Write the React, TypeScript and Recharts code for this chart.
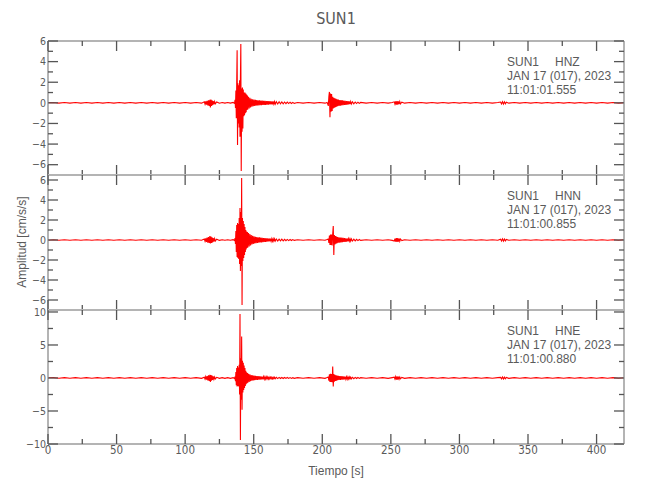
import React from 'react';
import { LineChart, Line, XAxis, YAxis } from 'recharts';

// ---------- data (time [s], amplitude [cm/s/s]) ----------
const STATION = 'SUN1';
const DATE_LINE = 'JAN 17 (017), 2023';
const CHANNELS = ['HNZ', 'HNN', 'HNE'];
const START_TIMES = ['11:01:01.555', '11:01:00.855', '11:01:00.880'];

const X_DOMAIN: [number, number] = [0, 420];
const X_MAJOR = [0, 50, 100, 150, 200, 250, 300, 350, 400];
const X_MINOR = [25, 75, 125, 175, 225, 275, 325, 375];

const Y_DOMAIN_HNZ: [number, number] = [-7, 6];
const Y_DOMAIN_HNN: [number, number] = [-7, 6.5];
const Y_DOMAIN_HNE: [number, number] = [-10, 10.3];
const Y_MAJOR_HNZ = [-6, -4, -2, 0, 2, 4, 6];
const Y_MINOR_HNZ = [-7, -5, -3, -1, 1, 3, 5];
const Y_MAJOR_HNN = [-6, -4, -2, 0, 2, 4, 6];
const Y_MINOR_HNN = [-7, -5, -3, -1, 1, 3, 5];
const Y_MAJOR_HNE = [-10, -5, 0, 5, 10];
const Y_MINOR_HNE = [-7.5, -2.5, 2.5, 7.5];

const HNZ: [number, number][] = [
  [0,0.02],[4,0.03],[8,-0.03],[12,0.03],[16,-0.03],[20,0.03],[24,-0.03],[28,0.03],[32,-0.03],[36,0.03],[40,-0.03],[44,0.03],[48,-0.03],[52,0.03],[56,-0.03],[60,0.03],[64,-0.03],[68,0.03],[72,-0.03],[76,0.03],[80,-0.03],[84,0.03],[88,-0.03],[92,0.03],[96,-0.03],[100,0.03],[104,-0.03],[108,0.03],[112,-0.03],
  [114,0.1],[114.5,-0.12],[115,0.15],[115.5,-0.18],[116,0.2],[116.5,-0.24],[117,0.25],[117.5,-0.3],[118,0.3],[118.4,-0.45],[118.8,0.33],[119.2,-0.3],[119.6,0.25],[120,-0.22],[120.5,0.18],[121,-0.15],[121.5,0.12],[122,-0.1],[123,0.08],
  [125,-0.04],[127,0.03],[129,-0.03],[131,0.03],[133,-0.03],[135,0.04],[136,-0.05],
  [136.4,0.3],[136.7,-0.5],[137,1.2],[137.3,-1.5],[137.6,1.8],[137.9,5.1],[138.2,-4.1],[138.5,1.9],[138.8,-2],[139.1,1.7],[139.4,-2.4],[139.7,2.2],[140,-3.3],[140.3,2.1],[140.6,5.7],[140.9,-6.6],[141.2,1.4],[141.5,-2.8],[141.8,1.5],[142.1,-2.5],[142.4,1.3],[142.7,-1.3],[143,1],[143.3,-1.2],[143.6,1],[143.9,-1],[144.2,0.9],[144.5,-0.9],[144.8,0.8],[145.1,-0.7],[145.4,0.7],[145.7,-0.65],
  [146.2,0.6],[146.7,-0.55],[147.2,0.5],[147.7,-0.45],[148.2,0.4],[148.7,-0.38],[149.2,0.35],[149.7,-0.33],[150.2,0.32],[150.7,-0.3],[151.2,0.3],[151.7,-0.28],[152.2,0.27],[152.7,-0.26],[153.2,0.25],[153.7,-0.25],[154.2,0.24],[154.7,-0.23],[155.2,0.23],[155.7,-0.22],
  [156.2,0.22],[156.7,-0.21],[157.2,0.2],[157.7,-0.2],[158.2,0.2],[158.7,-0.19],[159.2,0.18],[159.7,-0.18],[160.2,0.17],[160.7,-0.17],[161.2,0.16],[161.7,-0.16],[162.2,0.15],[162.7,-0.15],[163.2,0.14],[163.7,-0.14],[164.2,0.13],[164.7,-0.13],[165.2,0.12],[165.7,-0.12],
  [166.5,0.11],[167.5,-0.11],[168.5,0.1],[169.5,-0.1],[170.5,0.09],[171.5,-0.09],[172.5,0.08],[173.5,-0.08],[174.5,0.07],[175.5,-0.07],[176.5,0.06],[177.5,-0.06],[178.5,0.05],[179.5,-0.05],
  [182,0.03],[186,-0.03],[190,0.03],[194,-0.03],[198,0.03],[202,-0.03],[203.5,0.04],
  [204.4,-0.3],[204.8,0.6],[205.2,1.06],[205.6,-1.4],[206,0.9],[206.4,-0.87],[206.8,0.85],[207.2,-0.8],[207.6,0.6],[208,-0.55],[208.4,0.5],[208.8,-0.48],[209.2,0.45],[209.6,-0.42],[210,0.4],[210.4,-0.38],[210.8,0.35],[211.2,-0.33],
  [211.7,0.31],[212.2,-0.29],[212.7,0.28],[213.2,-0.27],[213.7,0.26],[214.2,-0.25],[214.7,0.24],[215.2,-0.23],[215.7,0.22],[216.2,-0.21],[216.7,0.2],[217.2,-0.19],[217.7,0.18],[218.2,-0.17],[218.7,0.16],[219.2,-0.15],[219.7,0.14],[220.2,-0.13],[220.7,0.12],[221.2,-0.11],
  [222,0.1],[223,-0.09],[224,0.08],[225,-0.07],[226,0.06],[227,-0.05],[228,0.04],
  [232,-0.03],[236,0.03],[240,-0.03],[244,0.03],[248,-0.03],[251,0.04],
  [252.5,0.1],[253,-0.12],[253.5,0.15],[254,-0.17],[254.5,0.18],[255,-0.18],[255.5,0.15],[256,-0.13],[256.5,0.12],[257,-0.1],[258,0.06],
  [260,-0.03],[264,0.03],[268,-0.03],[272,0.03],[276,-0.03],[280,0.03],[284,-0.03],[288,0.03],[292,-0.03],[296,0.03],[300,-0.03],[304,0.03],[308,-0.03],[312,0.03],[316,-0.03],[320,0.03],[324,-0.03],[328,0.03],
  [330,0.08],[330.7,-0.1],[331.4,0.12],[332.1,-0.12],[332.8,0.1],[333.5,-0.09],[334.2,0.06],
  [336,-0.03],[340,0.03],[344,-0.03],[348,0.03],[352,-0.03],[356,0.03],[360,-0.03],[364,0.03],[368,-0.03],[372,0.03],[376,-0.03],[380,0.03],[384,-0.03],[388,0.03],[392,-0.03],[396,0.03],[400,-0.03],[404,0.03],[408,-0.03],[412,0.03],[416,-0.03],[420,0.02],
];

const HNN: [number, number][] = [
  [0,-0.02],[4,0.03],[8,-0.03],[12,0.03],[16,-0.03],[20,0.03],[24,-0.03],[28,0.03],[32,-0.03],[36,0.03],[40,-0.03],[44,0.03],[48,-0.03],[52,0.03],[56,-0.03],[60,0.03],[64,-0.03],[68,0.03],[72,-0.03],[76,0.03],[80,-0.03],[84,0.03],[88,-0.03],[92,0.03],[96,-0.03],[100,0.03],[104,-0.03],[108,0.03],[112,-0.03],
  [114,0.1],[114.5,-0.12],[115,0.16],[115.5,-0.2],[116,0.25],[116.5,-0.28],[117,0.3],[117.5,-0.3],[118,0.4],[118.4,-0.35],[118.8,0.35],[119.2,-0.3],[119.6,0.28],[120,-0.24],[120.5,0.2],[121,-0.16],[121.5,0.13],[122,-0.1],[123,0.08],
  [125,-0.04],[127,0.03],[129,-0.03],[131,0.03],[133,-0.03],[135,0.04],[136,-0.05],
  [136.4,0.2],[136.7,-0.4],[137,0.9],[137.3,-1.2],[137.6,1.5],[137.9,-1.7],[138.2,1.7],[138.5,-1.8],[138.8,1.6],[139.1,-1.9],[139.4,2.2],[139.7,-2.4],[140,3.2],[140.3,-3.1],[140.6,2.8],[140.9,-2.6],[141.2,6.2],[141.5,-6.5],[141.8,2.2],[142.1,-2.1],[142.4,1.9],[142.7,-1.8],[143,1.6],[143.3,-1.5],[143.6,1.3],[143.9,-1.2],[144.2,1],[144.5,-0.95],[144.8,0.85],[145.1,-0.8],[145.4,0.8],[145.7,-0.75],
  [146.2,0.7],[146.7,-0.65],[147.2,0.6],[147.7,-0.55],[148.2,0.5],[148.7,-0.45],[149.2,0.42],[149.7,-0.4],[150.2,0.38],[150.7,-0.35],[151.2,0.33],[151.7,-0.32],[152.2,0.3],[152.7,-0.29],[153.2,0.28],[153.7,-0.27],[154.2,0.26],[154.7,-0.25],[155.2,0.24],[155.7,-0.23],
  [156.2,0.22],[156.7,-0.21],[157.2,0.2],[157.7,-0.2],[158.2,0.19],[158.7,-0.18],[159.2,0.17],[159.7,-0.17],[160.2,0.16],[160.7,-0.15],[161.2,0.15],[161.7,-0.14],[162.2,0.14],[162.7,-0.13],[163.2,0.13],[163.7,-0.12],[164.2,0.12],[164.7,-0.11],[165.2,0.11],[165.7,-0.1],
  [166.5,0.1],[167.5,-0.1],[168.5,0.09],[169.5,-0.09],[170.5,0.08],[171.5,-0.08],[172.5,0.07],[173.5,-0.07],[174.5,0.06],[175.5,-0.06],[176.5,0.05],[177.5,-0.05],[178.5,0.04],[179.5,-0.04],
  [182,0.03],[186,-0.03],[190,0.03],[194,-0.03],[198,0.03],[202,-0.03],[203.5,0.04],
  [204.4,0.1],[204.8,-0.3],[205.2,0.45],[205.6,-0.5],[206,0.55],[206.4,-0.5],[206.8,0.55],[207.2,-0.55],[207.6,0.6],[208,1.4],[208.4,-1.5],[208.8,0.5],[209.2,-0.45],[209.6,0.4],[210,-0.38],[210.4,0.35],[210.8,-0.32],[211.2,0.3],
  [211.7,-0.28],[212.2,0.27],[212.7,-0.26],[213.2,0.25],[213.7,-0.24],[214.2,0.23],[214.7,-0.22],[215.2,0.21],[215.7,-0.2],[216.2,0.19],[216.7,-0.18],[217.2,0.17],[217.7,-0.16],[218.2,0.15],[218.7,-0.14],[219.2,0.13],[219.7,-0.12],[220.2,0.12],[220.7,-0.11],[221.2,0.1],
  [222,-0.1],[223,0.09],[224,-0.08],[225,0.07],[226,-0.06],[227,0.05],[228,-0.04],
  [232,0.03],[236,-0.03],[240,0.03],[244,-0.03],[248,0.03],[251,-0.04],
  [252.5,-0.1],[253,0.14],[253.5,-0.17],[254,0.2],[254.5,-0.2],[255,0.2],[255.5,-0.17],[256,0.15],[256.5,-0.12],[257,0.1],[258,-0.06],
  [260,0.03],[264,-0.03],[268,0.03],[272,-0.03],[276,0.03],[280,-0.03],[284,0.03],[288,-0.03],[292,0.03],[296,-0.03],[300,0.03],[304,-0.03],[308,0.03],[312,-0.03],[316,0.03],[320,-0.03],[324,0.03],[328,-0.03],
  [330,0.08],[330.7,-0.1],[331.4,0.12],[332.1,-0.11],[332.8,0.1],[333.5,-0.09],[334.2,0.06],
  [336,-0.03],[340,0.03],[344,-0.03],[348,0.03],[352,-0.03],[356,0.03],[360,-0.03],[364,0.03],[368,-0.03],[372,0.03],[376,-0.03],[380,0.03],[384,-0.03],[388,0.03],[392,-0.03],[396,0.03],[400,-0.03],[404,0.03],[408,-0.03],[412,0.03],[416,-0.03],[420,0.02],
];

const HNE: [number, number][] = [
  [0,0.03],[4,0.05],[8,-0.05],[12,0.05],[16,-0.05],[20,0.05],[24,-0.05],[28,0.05],[32,-0.05],[36,0.05],[40,-0.05],[44,0.05],[48,-0.05],[52,0.05],[56,-0.05],[60,0.05],[64,-0.05],[68,0.05],[72,-0.05],[76,0.05],[80,-0.05],[84,0.05],[88,-0.05],[92,0.05],[96,-0.05],[100,0.05],[104,-0.05],[108,0.05],[112,-0.05],
  [114,0.12],[114.5,-0.15],[115,0.2],[115.5,-0.25],[116,0.3],[116.5,-0.35],[117,0.4],[117.5,-0.45],[118,0.5],[118.4,-0.6],[118.8,0.45],[119.2,-0.4],[119.6,0.35],[120,-0.3],[120.5,0.25],[121,-0.2],[121.5,0.16],[122,-0.13],[123,0.1],
  [125,-0.06],[127,0.05],[129,-0.05],[131,0.05],[133,-0.05],[135,0.06],[136,-0.08],
  [136.4,0.2],[136.7,-0.5],[137,0.9],[137.3,-1.1],[137.6,1.5],[137.9,-1.3],[138.2,1.8],[138.5,-1.2],[138.8,1.6],[139.1,-1.3],[139.4,2],[139.7,-2.5],[140,9.7],[140.3,-9.4],[140.6,3],[140.9,-3.3],[141.2,6.3],[141.5,-4.8],[141.8,2.6],[142.1,-2.2],[142.4,2.3],[142.7,-1.8],[143,1.9],[143.3,-1.5],[143.6,1.5],[143.9,-1.2],[144.2,1.1],[144.5,-0.95],[144.8,0.85],[145.1,-0.8],[145.4,0.75],[145.7,-0.7],
  [146.2,0.65],[146.7,-0.6],[147.2,0.55],[147.7,-0.5],[148.2,0.45],[148.7,-0.42],[149.2,0.4],[149.7,-0.38],[150.2,0.35],[150.7,-0.33],[151.2,0.32],[151.7,-0.3],[152.2,0.3],[152.7,-0.28],[153.2,0.27],[153.7,-0.26],[154.2,0.25],[154.7,-0.24],[155.2,0.23],[155.7,-0.22],
  [156.2,0.21],[156.7,-0.2],[157.2,0.2],[157.7,-0.19],[158.2,0.18],[158.7,-0.17],[159.2,0.17],[159.7,-0.16],[160.2,0.15],[160.7,-0.15],[161.2,0.14],[161.7,-0.14],[162.2,0.13],[162.7,-0.13],[163.2,0.12],[163.7,-0.12],[164.2,0.11],[164.7,-0.11],[165.2,0.1],[165.7,-0.1],
  [166.5,0.1],[167.5,-0.09],[168.5,0.09],[169.5,-0.08],[170.5,0.08],[171.5,-0.08],[172.5,0.07],[173.5,-0.07],[174.5,0.07],[175.5,-0.06],[176.5,0.06],[177.5,-0.06],[178.5,0.05],[179.5,-0.05],
  [182,0.05],[186,-0.05],[190,0.05],[194,-0.05],[198,0.05],[202,-0.05],[203.5,0.06],
  [204.4,0.15],[204.8,-0.4],[205.2,0.55],[205.6,-0.6],[206,0.65],[206.4,-0.6],[206.8,0.6],[207.2,-0.65],[207.6,1.75],[208,-1.27],[208.4,0.6],[208.8,-0.55],[209.2,0.5],[209.6,-0.45],[210,0.42],[210.4,-0.4],[210.8,0.36],[211.2,-0.34],
  [211.7,0.32],[212.2,-0.3],[212.7,0.29],[213.2,-0.28],[213.7,0.27],[214.2,-0.26],[214.7,0.25],[215.2,-0.24],[215.7,0.23],[216.2,-0.22],[216.7,0.21],[217.2,-0.2],[217.7,0.19],[218.2,-0.18],[218.7,0.17],[219.2,-0.16],[219.7,0.15],[220.2,-0.14],[220.7,0.13],[221.2,-0.12],
  [222,0.11],[223,-0.1],[224,0.09],[225,-0.08],[226,0.07],[227,-0.06],[228,0.05],
  [232,-0.05],[236,0.05],[240,-0.05],[244,0.05],[248,-0.05],[251,0.06],
  [252.5,0.12],[253,-0.16],[253.5,0.2],[254,-0.24],[254.5,0.25],[255,-0.25],[255.5,0.2],[256,-0.17],[256.5,0.14],[257,-0.12],[258,0.08],
  [260,-0.05],[264,0.05],[268,-0.05],[272,0.05],[276,-0.05],[280,0.05],[284,-0.05],[288,0.05],[292,-0.05],[296,0.05],[300,-0.05],[304,0.05],[308,-0.05],[312,0.05],[316,-0.05],[320,0.05],[324,-0.05],[328,0.05],
  [330,0.1],[330.7,-0.13],[331.4,0.15],[332.1,-0.15],[332.8,0.13],[333.5,-0.11],[334.2,0.08],
  [336,-0.05],[340,0.05],[344,-0.05],[348,0.05],[352,-0.05],[356,0.05],[360,-0.05],[364,0.05],[368,-0.05],[372,0.05],[376,-0.05],[380,0.05],[384,-0.05],[388,0.05],[392,-0.05],[396,0.05],[400,-0.05],[404,0.05],[408,-0.05],[412,0.05],[416,-0.05],[420,0.03],
];

// ---------- styles / layout ----------
const TEXT_FONT = "'Liberation Sans', Arial, sans-serif";
const TICK_FONT = "'Liberation Sans Narrow', 'DejaVu Sans Condensed', 'Liberation Sans', sans-serif";
const TEXT_COLOR = '#5a5a5a';
const FRAME_COLOR = '#b4b4b4';
const TICK_COLOR = '#555555';
const TRACE_COLOR = '#ff0000';
const W = 650;
const H = 500;
const PLOT_LEFT = 48;
const PLOT_RIGHT = 624;

const PANELS = [
  { data: HNZ, domain: Y_DOMAIN_HNZ, major: Y_MAJOR_HNZ, minor: Y_MINOR_HNZ, top: 41, bottom: 175 },
  { data: HNN, domain: Y_DOMAIN_HNN, major: Y_MAJOR_HNN, minor: Y_MINOR_HNN, top: 175, bottom: 310 },
  { data: HNE, domain: Y_DOMAIN_HNE, major: Y_MAJOR_HNE, minor: Y_MINOR_HNE, top: 310, bottom: 444 },
];

const fmt = (v: number) => String(v).replace('-', '\u2212');

const AxisTick = (props: any) => {
  const { x, y, payload, side, majors, showLabel } = props;
  const v = payload.value;
  const isMajor = majors.includes(v);
  const len = isMajor ? 10 : 5;
  let line = null;
  let text = null;
  const lp = { stroke: TICK_COLOR, strokeWidth: 1.3 };
  if (side === 'left') {
    line = <line x1={x} y1={y} x2={x + len} y2={y} {...lp} />;
    if (showLabel && isMajor) text = (
      <text x={x - 2} y={y} dy="0.36em" textAnchor="end" fill={TEXT_COLOR} fontSize={10.5} fontFamily={TICK_FONT}>{fmt(v)}</text>
    );
  } else if (side === 'right') {
    line = <line x1={x} y1={y} x2={x - len} y2={y} {...lp} />;
  } else if (side === 'top') {
    line = <line x1={x} y1={y} x2={x} y2={y + len} {...lp} />;
  } else {
    line = <line x1={x} y1={y} x2={x} y2={y - len} {...lp} />;
    if (showLabel && isMajor) text = (
      <text x={x} y={y + 2} dy="0.72em" textAnchor="middle" fill={TEXT_COLOR} fontSize={11.5} fontFamily={TICK_FONT}>{fmt(v)}</text>
    );
  }
  return <g>{line}{text}</g>;
};

const Panel = ({ p, idx }: { p: any; idx: number }) => {
  const rows = p.data.map(([t, a]: [number, number]) => ({ t, a }));
  const yTicks = [...p.major, ...p.minor].sort((a: number, b: number) => a - b);
  const xTicks = [...X_MAJOR, ...X_MINOR].sort((a, b) => a - b);
  const isLast = idx === PANELS.length - 1;
  const axisLine = { stroke: FRAME_COLOR, strokeWidth: 2 };
  return (
    <div style={{ position: 'absolute', left: 0, top: 0 }}>
      <LineChart
        width={W}
        height={H}
        data={rows}
        margin={{ top: p.top - 1, bottom: H - p.bottom - 1, left: PLOT_LEFT - 1, right: W - PLOT_RIGHT - 1 }}
      >
        <XAxis xAxisId="b" dataKey="t" type="number" orientation="bottom" domain={X_DOMAIN} allowDataOverflow
          ticks={xTicks} interval={0} height={1} tickSize={0} tickMargin={0} tickLine={false} axisLine={axisLine}
          tick={<AxisTick side="bottom" majors={X_MAJOR} showLabel={isLast} />} />
        <XAxis xAxisId="t" dataKey="t" type="number" orientation="top" domain={X_DOMAIN} allowDataOverflow
          ticks={xTicks} interval={0} height={1} tickSize={0} tickMargin={0} tickLine={false} axisLine={axisLine}
          tick={<AxisTick side="top" majors={X_MAJOR} showLabel={false} />} />
        <YAxis yAxisId="l" type="number" orientation="left" domain={p.domain} allowDataOverflow
          ticks={yTicks} interval={0} width={1} tickSize={0} tickMargin={0} tickLine={false} axisLine={axisLine}
          tick={<AxisTick side="left" majors={p.major} showLabel={true} />} />
        <YAxis yAxisId="r" type="number" orientation="right" domain={p.domain} allowDataOverflow
          ticks={yTicks} interval={0} width={1} tickSize={0} tickMargin={0} tickLine={false} axisLine={axisLine}
          tick={<AxisTick side="right" majors={p.major} showLabel={false} />} />
        <Line xAxisId="b" yAxisId="l" type="linear" dataKey="a" stroke={TRACE_COLOR} strokeWidth={1.1}
          dot={false} activeDot={false} isAnimationActive={false} />
      </LineChart>
    </div>
  );
};

export default function App() {
  const annX = 507;
  return (
    <div style={{ position: 'absolute', left: 0, top: 0, width: W, height: H, background: '#fff' }}>
      {PANELS.map((p, i) => <Panel key={i} p={p} idx={i} />)}
      <svg width={W} height={H} style={{ position: 'absolute', left: 0, top: 0, pointerEvents: 'none' }}>
        <text x={(PLOT_LEFT + PLOT_RIGHT) / 2} y={24} textAnchor="middle" fill={TEXT_COLOR}
          fontSize={16} fontFamily={TICK_FONT}>{STATION}</text>
        <text x={(PLOT_LEFT + PLOT_RIGHT) / 2} y={475} textAnchor="middle" fill={TEXT_COLOR}
          fontSize={12} fontFamily={TEXT_FONT}>Tiempo [s]</text>
        <text x={0} y={0} transform={`translate(26, 242) rotate(-90)`} textAnchor="middle" fill={TEXT_COLOR}
          fontSize={12} fontFamily={TEXT_FONT}>Amplitud [cm/s/s]</text>
        {PANELS.map((p, i) => (
          <g key={i} fill={TEXT_COLOR} fontSize={12} fontFamily={TEXT_FONT}>
            <text x={annX} y={p.top + 25}>
              <tspan>{STATION}</tspan>
              <tspan dx={16}>{CHANNELS[i]}</tspan>
            </text>
            <text x={annX} y={p.top + 39}>{DATE_LINE}</text>
            <text x={annX} y={p.top + 53}>{START_TIMES[i]}</text>
          </g>
        ))}
      </svg>
    </div>
  );
}
